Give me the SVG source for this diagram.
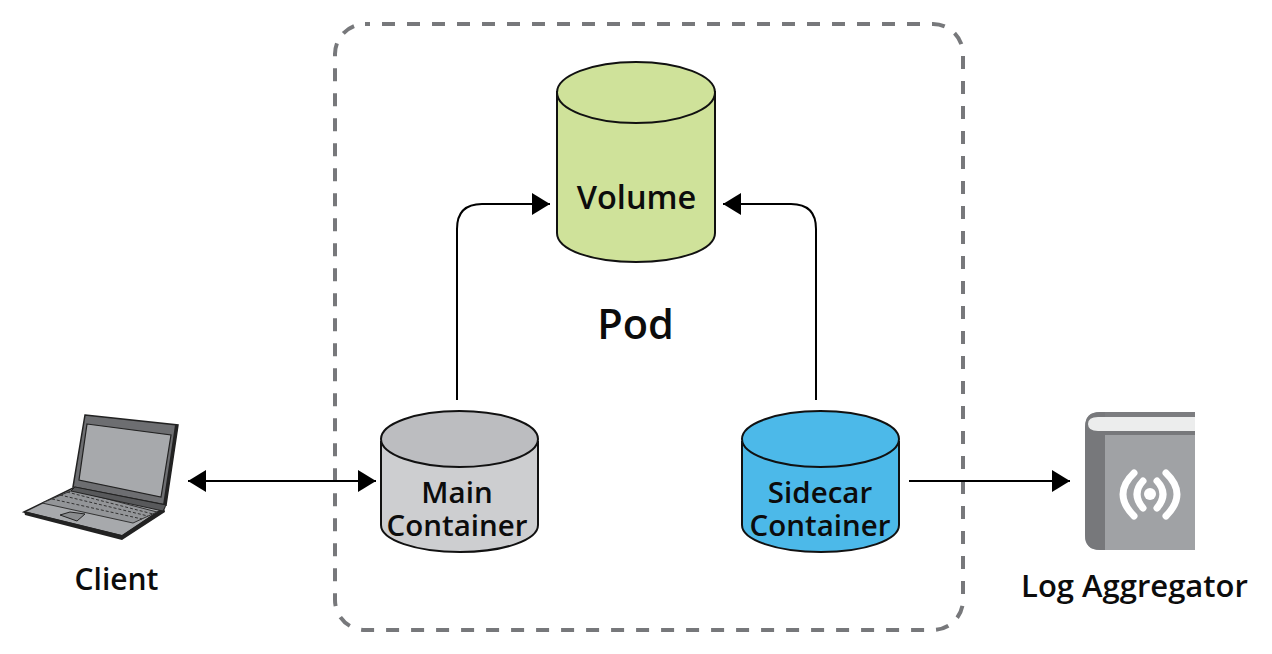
<svg xmlns="http://www.w3.org/2000/svg" width="1272" height="654" viewBox="0 0 1272 654">
<style>
.t{font-family:"Open Sans","Noto Sans","Liberation Sans",sans-serif;font-weight:600;fill:#0c0c0c;text-anchor:middle}
.c{stroke:#111;stroke-width:2}
.l{fill:none;stroke:#000;stroke-width:2}
.e{fill:none;stroke:#333;stroke-width:1}
</style>
<defs>
<marker id="a" markerUnits="userSpaceOnUse" markerWidth="20" markerHeight="22" refX="18" refY="11" orient="auto-start-reverse"><path d="M0 0L18 11L0 22Z" fill="#000"/></marker>
</defs>
<rect width="1272" height="654" fill="#fff"/>
<g id="pod">
<rect x="335" y="24" width="628" height="606" rx="30" fill="none" stroke="#77787b" stroke-width="4" stroke-dasharray="13 12" stroke-dashoffset="8"/>
<text class="t" x="635.500" y="339" font-size="41.500">Pod</text>
</g>
<g id="connectors">
<path class="l" d="M457 400V229Q457 204 482 204H550" marker-end="url(#a)"/>
<path class="l" d="M816 400V229Q816 204 791 204H723" marker-end="url(#a)"/>
<path class="l" d="M188 481H376" marker-start="url(#a)" marker-end="url(#a)"/>
<path class="l" d="M909 481H1070" marker-end="url(#a)"/>
</g>
<g id="volume">
<path class="c" fill="#cfe29a" d="M557 92V233C557 250 592 262 636 262S715 250 715 233V92Z"/>
<ellipse class="c" cx="636" cy="92.500" rx="79" ry="30.500" fill="#cfe29a"/>
<text class="t" x="636.500" y="209" font-size="32.500">Volume</text>
</g>
<g id="main-container">
<path class="c" fill="#cdced0" d="M381 442V525C381 540 416 552 460 552S538 540 538 525V442Z"/>
<ellipse class="c" cx="459.500" cy="439" rx="78.500" ry="28" fill="#bcbdc0"/>
<text class="t" font-size="29.500"><tspan x="457" y="503">Main</tspan><tspan x="457" y="536">Container</tspan></text>
</g>
<g id="sidecar-container">
<path class="c" fill="#4cb9e9" d="M742 442V525C742 540 777 552 821 552S899 540 899 525V442Z"/>
<ellipse class="c" cx="820.500" cy="439" rx="78.500" ry="28" fill="#4cb9e9"/>
<text class="t" font-size="29.500"><tspan x="820" y="503">Sidecar</tspan><tspan x="820" y="536">Container</tspan></text>
</g>
<g id="client">
<path d="M85 415L178 425L166 505L73 487Z" fill="#6d6e71" stroke="#222" stroke-width="1.500"/>
<path d="M87 424L171 435L161 497L79 480Z" fill="#a7a9ac" stroke="#222" stroke-width="1.200"/>
<path d="M24 512L73 488L164 508L122 536Z" fill="#a7a9ac" stroke="#222" stroke-width="1.500"/>
<path d="M24 511L25 515L122 540L165 512L164 507L122 535Z" fill="#222"/>
<path d="M42 503L73 490L157 512L133 523Z" fill="#939598" stroke="#333" stroke-width="1"/>
<path class="e" stroke-dasharray="3 2" d="M52 499L142 519M60 495L148 516M67 492L153 514"/>
<path d="M60 515L70 512L85 514L77 521Z" fill="#8a8c8e" stroke="#222" stroke-width="1"/>
<path d="M75 487L166 505L163 511L71 491Z" fill="#58595b" stroke="#222" stroke-width="1"/>
<path d="M178 425L166 505L163 505L175 425Z" fill="#222"/>
<text class="t" x="116.500" y="590" font-size="30">Client</text>
</g>
<g id="log-aggregator">
<path d="M1195 412H1100Q1085 412 1085 427V535Q1085 550 1100 550H1195Z" fill="#a0a2a5"/>
<path d="M1105 412H1100Q1085 412 1085 427V535Q1085 550 1100 550H1105Z" fill="#77787b"/>
<path d="M1195 412H1105V418H1195Z" fill="#7c7d80"/>
<path d="M1195 417H1098Q1088 417 1088 424Q1088 431 1098 431H1195Z" fill="#eceded"/>
<path d="M1105 431H1195V435H1105Z" fill="#77787b"/>
<circle cx="1150" cy="494" r="6" fill="#fff"/>
<path d="M1143 481Q1131 494 1143 508M1157 481Q1169 494 1157 508M1134 473Q1112 494 1134 516M1166 473Q1188 494 1166 516" fill="none" stroke="#fff" stroke-width="7" stroke-linecap="round"/>
<text class="t" x="1134.500" y="597" font-size="31">Log Aggregator</text>
</g>
</svg>
